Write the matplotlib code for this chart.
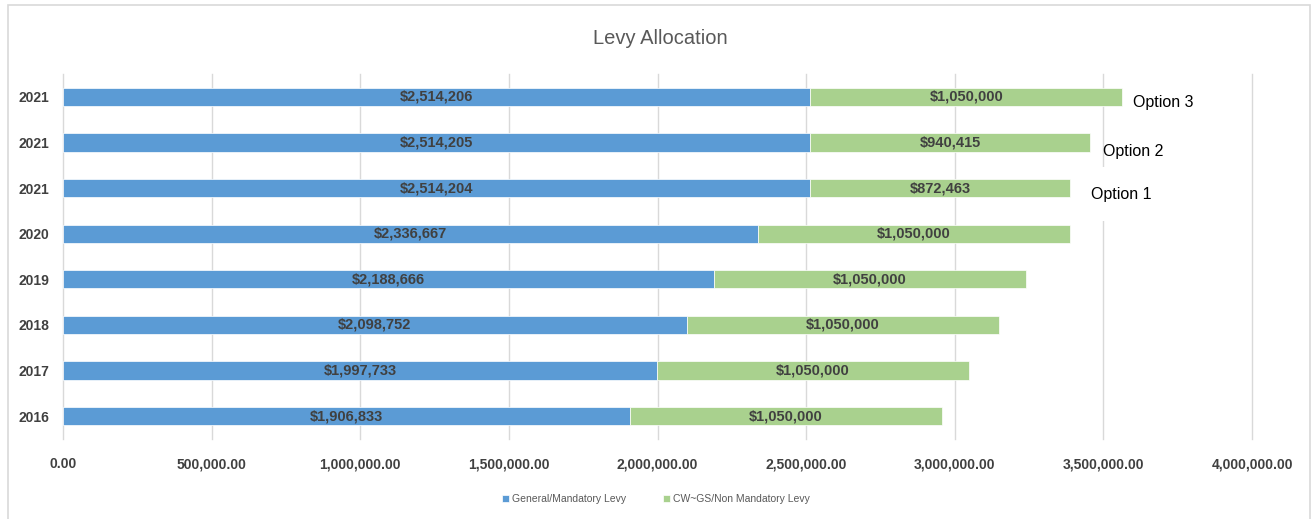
import matplotlib
matplotlib.use("Agg")
import matplotlib.pyplot as plt
from matplotlib.patches import Rectangle
from matplotlib.ticker import FuncFormatter

plt.rcParams['font.family'] = ['Liberation Sans', 'DejaVu Sans']

# data (bottom to top)
years = ['2016', '2017', '2018', '2019', '2020', '2021', '2021', '2021']
general = [1906833, 1997733, 2098752, 2188666, 2336667, 2514204, 2514205, 2514206]
cw_gs = [1050000, 1050000, 1050000, 1050000, 1050000, 872463, 940415, 1050000]
options = ['Option 1', 'Option 2', 'Option 3']

blue = '#5B9BD5'
green = '#A9D18E'
txt = '#404040'

fig = plt.figure(figsize=(13.12, 5.19), dpi=100)
ax = fig.add_axes([63/1312, 1-439/519, (1252-63)/1312, (439-74)/519])

pos = list(range(len(years)))
b1 = ax.barh(pos, general, height=0.4, color=blue, edgecolor='white', linewidth=0.5,
             label='General/Mandatory Levy')
b2 = ax.barh(pos, cw_gs, left=general, height=0.4, color=green, edgecolor='white',
             linewidth=0.5, label='CW~GS/Non Mandatory Levy')

for i in pos:
    ax.text(general[i]/2, i, '${:,}'.format(general[i]), ha='center', va='center',
            fontsize=10.5, fontweight='bold', color=txt)
    ax.text(general[i] + cw_gs[i]/2, i, '${:,}'.format(cw_gs[i]), ha='center', va='center',
            fontsize=10.5, fontweight='bold', color=txt)

# option annotations for the three 2021 rows
opt_x = [3.46e6, 3.50e6, 3.60e6]
opt_dy = [-0.14, -0.19, -0.12]
for k, name in enumerate(options):
    i = 5 + k
    kw = {}
    if k == 0:
        kw['bbox'] = dict(facecolor='white', edgecolor='none', pad=14)
    ax.text(opt_x[k], i + opt_dy[k], name, ha='left', va='center', fontsize=11.5,
            color='black', **kw)

ax.set_xlim(0, 4000000)
ax.set_ylim(-0.5, len(years) - 0.5)
ax.set_xticks([i * 500000 for i in range(9)])
ax.xaxis.set_major_formatter(FuncFormatter(lambda v, p: '{:,.2f}'.format(v)))
ax.set_yticks(pos)
ax.set_yticklabels(years)
for lab in ax.get_xticklabels() + ax.get_yticklabels():
    lab.set_fontweight('bold')
    lab.set_fontsize(10)
    lab.set_color(txt)
ax.tick_params(axis='x', length=0, pad=13)
ax.tick_params(axis='y', length=0, pad=10)
ax.grid(axis='x', color='#d9d9d9', linewidth=1)
for gl in ax.get_xgridlines():
    gl.set_clip_on(False)
ax.set_axisbelow(True)
for s in ax.spines.values():
    s.set_visible(False)

fig.text(660/1312, 1-38/519, 'Levy Allocation', ha='center', va='center',
         fontsize=14.5, color='#595959')

fig.legend(handles=[b1, b2], loc='center', bbox_to_anchor=(0.5, 1-499/519), ncol=2,
           frameon=False, fontsize=7.5, handlelength=0.7, handleheight=0.7,
           columnspacing=3.5, handletextpad=0.3, labelcolor='#595959')

# chart frame
fig.patches.append(Rectangle((8/1312, -0.1), (1310-8)/1312, 1.1 - 5/519,
                             transform=fig.transFigure, fill=False,
                             edgecolor='#d9d9d9', linewidth=1.2))

fig.savefig('out.png', dpi=100)
